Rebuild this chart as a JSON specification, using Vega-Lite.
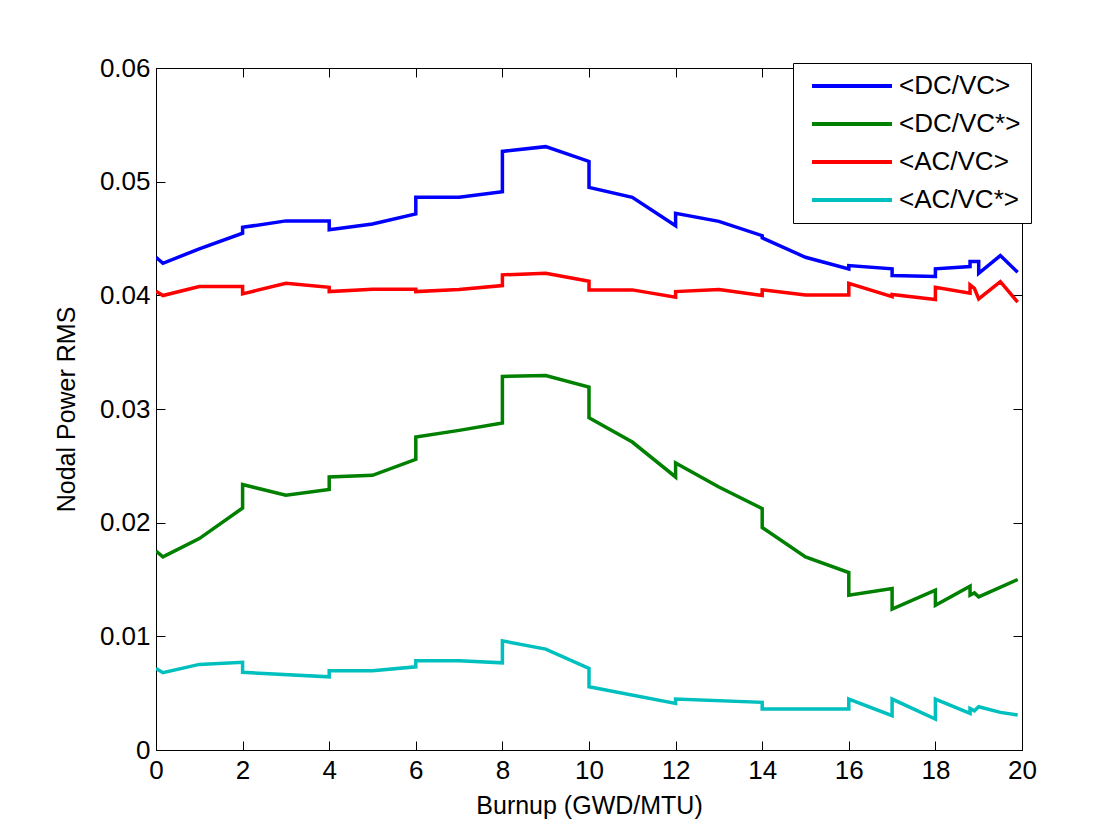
{
  "$schema": "https://vega.github.io/schema/vega-lite/v6.json",
  "autosize": {"type": "none"},
  "padding": {"left": 156, "top": 68, "right": 89, "bottom": 88},
  "width": 866,
  "height": 682,
  "background": "white",
  "config": {
    "font": "Liberation Sans",
    "view": {"stroke": "black", "strokeWidth": 1},
    "axis": {"grid": false, "domainColor": "black", "tickColor": "black", "labelColor": "black", "titleColor": "black", "labelFont": "Liberation Sans", "titleFont": "Liberation Sans", "titleFontWeight": "normal", "labelFlush": false}
  },
  "data": {"values": [
    {"s":"<DC/VC>","x":0,"y":0.04335,"i":1},
    {"s":"<DC/VC>","x":0.16,"y":0.04282,"i":2},
    {"s":"<DC/VC>","x":1,"y":0.04409,"i":3},
    {"s":"<DC/VC>","x":2,"y":0.04546,"i":4},
    {"s":"<DC/VC>","x":2,"y":0.04598,"i":5},
    {"s":"<DC/VC>","x":3,"y":0.04655,"i":6},
    {"s":"<DC/VC>","x":4,"y":0.04655,"i":7},
    {"s":"<DC/VC>","x":4,"y":0.04578,"i":8},
    {"s":"<DC/VC>","x":5,"y":0.04628,"i":9},
    {"s":"<DC/VC>","x":6,"y":0.04716,"i":10},
    {"s":"<DC/VC>","x":6,"y":0.04862,"i":11},
    {"s":"<DC/VC>","x":7,"y":0.04862,"i":12},
    {"s":"<DC/VC>","x":8,"y":0.04912,"i":13},
    {"s":"<DC/VC>","x":8,"y":0.05266,"i":14},
    {"s":"<DC/VC>","x":9,"y":0.05308,"i":15},
    {"s":"<DC/VC>","x":10,"y":0.05178,"i":16},
    {"s":"<DC/VC>","x":10,"y":0.04950,"i":17},
    {"s":"<DC/VC>","x":11,"y":0.04862,"i":18},
    {"s":"<DC/VC>","x":12,"y":0.04613,"i":19},
    {"s":"<DC/VC>","x":12,"y":0.04722,"i":20},
    {"s":"<DC/VC>","x":13,"y":0.04651,"i":21},
    {"s":"<DC/VC>","x":14,"y":0.04525,"i":22},
    {"s":"<DC/VC>","x":14,"y":0.04506,"i":23},
    {"s":"<DC/VC>","x":15,"y":0.04335,"i":24},
    {"s":"<DC/VC>","x":16,"y":0.04233,"i":25},
    {"s":"<DC/VC>","x":16,"y":0.04262,"i":26},
    {"s":"<DC/VC>","x":17,"y":0.04233,"i":27},
    {"s":"<DC/VC>","x":17,"y":0.04174,"i":28},
    {"s":"<DC/VC>","x":18,"y":0.04165,"i":29},
    {"s":"<DC/VC>","x":18,"y":0.04233,"i":30},
    {"s":"<DC/VC>","x":18.8,"y":0.04253,"i":31},
    {"s":"<DC/VC>","x":18.8,"y":0.04297,"i":32},
    {"s":"<DC/VC>","x":19,"y":0.04297,"i":33},
    {"s":"<DC/VC>","x":19,"y":0.04194,"i":34},
    {"s":"<DC/VC>","x":19.5,"y":0.04350,"i":35},
    {"s":"<DC/VC>","x":19.9,"y":0.04203,"i":36},

    {"s":"<DC/VC*>","x":0,"y":0.01751,"i":1},
    {"s":"<DC/VC*>","x":0.16,"y":0.01699,"i":2},
    {"s":"<DC/VC*>","x":1,"y":0.01860,"i":3},
    {"s":"<DC/VC*>","x":2,"y":0.02129,"i":4},
    {"s":"<DC/VC*>","x":2,"y":0.02335,"i":5},
    {"s":"<DC/VC*>","x":3,"y":0.02241,"i":6},
    {"s":"<DC/VC*>","x":4,"y":0.02293,"i":7},
    {"s":"<DC/VC*>","x":4,"y":0.02402,"i":8},
    {"s":"<DC/VC*>","x":5,"y":0.02417,"i":9},
    {"s":"<DC/VC*>","x":6,"y":0.02557,"i":10},
    {"s":"<DC/VC*>","x":6,"y":0.02753,"i":11},
    {"s":"<DC/VC*>","x":7,"y":0.02812,"i":12},
    {"s":"<DC/VC*>","x":8,"y":0.02876,"i":13},
    {"s":"<DC/VC*>","x":8,"y":0.03286,"i":14},
    {"s":"<DC/VC*>","x":9,"y":0.03295,"i":15},
    {"s":"<DC/VC*>","x":10,"y":0.03193,"i":16},
    {"s":"<DC/VC*>","x":10,"y":0.02923,"i":17},
    {"s":"<DC/VC*>","x":11,"y":0.02709,"i":18},
    {"s":"<DC/VC*>","x":12,"y":0.02402,"i":19},
    {"s":"<DC/VC*>","x":12,"y":0.02525,"i":20},
    {"s":"<DC/VC*>","x":13,"y":0.02314,"i":21},
    {"s":"<DC/VC*>","x":14,"y":0.02124,"i":22},
    {"s":"<DC/VC*>","x":14,"y":0.01957,"i":23},
    {"s":"<DC/VC*>","x":15,"y":0.01699,"i":24},
    {"s":"<DC/VC*>","x":16,"y":0.01561,"i":25},
    {"s":"<DC/VC*>","x":16,"y":0.01362,"i":26},
    {"s":"<DC/VC*>","x":17,"y":0.01421,"i":27},
    {"s":"<DC/VC*>","x":17,"y":0.01239,"i":28},
    {"s":"<DC/VC*>","x":18,"y":0.01406,"i":29},
    {"s":"<DC/VC*>","x":18,"y":0.01274,"i":30},
    {"s":"<DC/VC*>","x":18.8,"y":0.01441,"i":31},
    {"s":"<DC/VC*>","x":18.8,"y":0.01362,"i":32},
    {"s":"<DC/VC*>","x":18.9,"y":0.01382,"i":33},
    {"s":"<DC/VC*>","x":19,"y":0.01347,"i":34},
    {"s":"<DC/VC*>","x":19.9,"y":0.01500,"i":35},

    {"s":"<AC/VC>","x":0,"y":0.04036,"i":1},
    {"s":"<AC/VC>","x":0.16,"y":0.03998,"i":2},
    {"s":"<AC/VC>","x":1,"y":0.04077,"i":3},
    {"s":"<AC/VC>","x":2,"y":0.04077,"i":4},
    {"s":"<AC/VC>","x":2,"y":0.04013,"i":5},
    {"s":"<AC/VC>","x":3,"y":0.04106,"i":6},
    {"s":"<AC/VC>","x":4,"y":0.04071,"i":7},
    {"s":"<AC/VC>","x":4,"y":0.04033,"i":8},
    {"s":"<AC/VC>","x":5,"y":0.04054,"i":9},
    {"s":"<AC/VC>","x":6,"y":0.04054,"i":10},
    {"s":"<AC/VC>","x":6,"y":0.04033,"i":11},
    {"s":"<AC/VC>","x":7,"y":0.04051,"i":12},
    {"s":"<AC/VC>","x":8,"y":0.04086,"i":13},
    {"s":"<AC/VC>","x":8,"y":0.04180,"i":14},
    {"s":"<AC/VC>","x":9,"y":0.04194,"i":15},
    {"s":"<AC/VC>","x":10,"y":0.04124,"i":16},
    {"s":"<AC/VC>","x":10,"y":0.04048,"i":17},
    {"s":"<AC/VC>","x":11,"y":0.04048,"i":18},
    {"s":"<AC/VC>","x":12,"y":0.03983,"i":19},
    {"s":"<AC/VC>","x":12,"y":0.04033,"i":20},
    {"s":"<AC/VC>","x":13,"y":0.04051,"i":21},
    {"s":"<AC/VC>","x":14,"y":0.03998,"i":22},
    {"s":"<AC/VC>","x":14,"y":0.04048,"i":23},
    {"s":"<AC/VC>","x":15,"y":0.04004,"i":24},
    {"s":"<AC/VC>","x":16,"y":0.04004,"i":25},
    {"s":"<AC/VC>","x":16,"y":0.04106,"i":26},
    {"s":"<AC/VC>","x":17,"y":0.03989,"i":27},
    {"s":"<AC/VC>","x":17,"y":0.04007,"i":28},
    {"s":"<AC/VC>","x":18,"y":0.03963,"i":29},
    {"s":"<AC/VC>","x":18,"y":0.04071,"i":30},
    {"s":"<AC/VC>","x":18.8,"y":0.04019,"i":31},
    {"s":"<AC/VC>","x":18.8,"y":0.04092,"i":32},
    {"s":"<AC/VC>","x":18.9,"y":0.04062,"i":33},
    {"s":"<AC/VC>","x":19,"y":0.03969,"i":34},
    {"s":"<AC/VC>","x":19.5,"y":0.04121,"i":35},
    {"s":"<AC/VC>","x":19.9,"y":0.03940,"i":36},

    {"s":"<AC/VC*>","x":0,"y":0.00718,"i":1},
    {"s":"<AC/VC*>","x":0.16,"y":0.00680,"i":2},
    {"s":"<AC/VC*>","x":1,"y":0.00753,"i":3},
    {"s":"<AC/VC*>","x":2,"y":0.00771,"i":4},
    {"s":"<AC/VC*>","x":2,"y":0.00683,"i":5},
    {"s":"<AC/VC*>","x":4,"y":0.00644,"i":6},
    {"s":"<AC/VC*>","x":4,"y":0.00697,"i":7},
    {"s":"<AC/VC*>","x":5,"y":0.00697,"i":8},
    {"s":"<AC/VC*>","x":6,"y":0.00732,"i":9},
    {"s":"<AC/VC*>","x":6,"y":0.00785,"i":10},
    {"s":"<AC/VC*>","x":7,"y":0.00785,"i":11},
    {"s":"<AC/VC*>","x":8,"y":0.00767,"i":12},
    {"s":"<AC/VC*>","x":8,"y":0.00960,"i":13},
    {"s":"<AC/VC*>","x":9,"y":0.00888,"i":14},
    {"s":"<AC/VC*>","x":10,"y":0.00718,"i":15},
    {"s":"<AC/VC*>","x":10,"y":0.00556,"i":16},
    {"s":"<AC/VC*>","x":12,"y":0.00410,"i":17},
    {"s":"<AC/VC*>","x":12,"y":0.00448,"i":18},
    {"s":"<AC/VC*>","x":14,"y":0.00419,"i":19},
    {"s":"<AC/VC*>","x":14,"y":0.00360,"i":20},
    {"s":"<AC/VC*>","x":16,"y":0.00360,"i":21},
    {"s":"<AC/VC*>","x":16,"y":0.00448,"i":22},
    {"s":"<AC/VC*>","x":17,"y":0.00302,"i":23},
    {"s":"<AC/VC*>","x":17,"y":0.00448,"i":24},
    {"s":"<AC/VC*>","x":18,"y":0.00272,"i":25},
    {"s":"<AC/VC*>","x":18,"y":0.00448,"i":26},
    {"s":"<AC/VC*>","x":18.8,"y":0.00322,"i":27},
    {"s":"<AC/VC*>","x":18.8,"y":0.00366,"i":28},
    {"s":"<AC/VC*>","x":18.9,"y":0.00345,"i":29},
    {"s":"<AC/VC*>","x":19,"y":0.00381,"i":30},
    {"s":"<AC/VC*>","x":19.5,"y":0.00331,"i":31},
    {"s":"<AC/VC*>","x":19.9,"y":0.00308,"i":32}
  ]},
  "layer": [
    {
      "mark": {"type": "point", "opacity": 0},
      "encoding": {
        "x": {"field": "x", "type": "quantitative", "scale": {"domain": [0, 20], "nice": false},
              "axis": {"orient": "top", "values": [0,2,4,6,8,10,12,14,16,18,20], "labels": false, "title": null, "domain": false, "tickSize": -9}},
        "y": {"field": "y", "type": "quantitative", "scale": {"domain": [0, 0.06], "nice": false},
              "axis": {"orient": "right", "values": [0,0.01,0.02,0.03,0.04,0.05,0.06], "labels": false, "title": null, "domain": false, "tickSize": -9}}
      }
    },
    {
      "mark": {"type": "line", "strokeWidth": 3.5, "clip": true},
      "encoding": {
        "x": {"field": "x", "type": "quantitative", "scale": {"domain": [0, 20], "nice": false},
              "axis": {"orient": "bottom", "values": [0,2,4,6,8,10,12,14,16,18,20], "format": "~g", "title": "Burnup (GWD/MTU)", "labelFontSize": 26, "titleFontSize": 25, "tickSize": -9, "labelPadding": 16, "titlePadding": 10, "domainColor": "black"}},
        "y": {"field": "y", "type": "quantitative", "scale": {"domain": [0, 0.06], "nice": false},
              "axis": {"orient": "left", "values": [0,0.01,0.02,0.03,0.04,0.05,0.06], "format": "~g", "title": "Nodal Power RMS", "labelFontSize": 26, "titleFontSize": 25, "tickSize": -9, "labelPadding": 15, "titlePadding": 20}},
        "color": {"field": "s", "type": "nominal",
                  "scale": {"domain": ["<DC/VC>", "<DC/VC*>", "<AC/VC>", "<AC/VC*>"], "range": ["#0000ff", "#008000", "#ff0000", "#00bfbf"]},
                  "legend": {"orient": "none", "legendX": 637, "legendY": -5, "title": null, "strokeColor": "black", "fillColor": "white", "padding": 10,
                             "symbolType": "M-4,0H4", "symbolSize": 400, "symbolStrokeWidth": 4, "symbolOffset": 36, "labelOffset": 34,
                             "labelFontSize": 26, "labelFont": "Liberation Sans", "labelColor": "black", "rowPadding": 12, "labelLimit": 300}},
        "order": {"field": "i", "type": "quantitative"}
      }
    }
  ],
  "resolve": {"axis": {"x": "independent", "y": "independent"}}
}
